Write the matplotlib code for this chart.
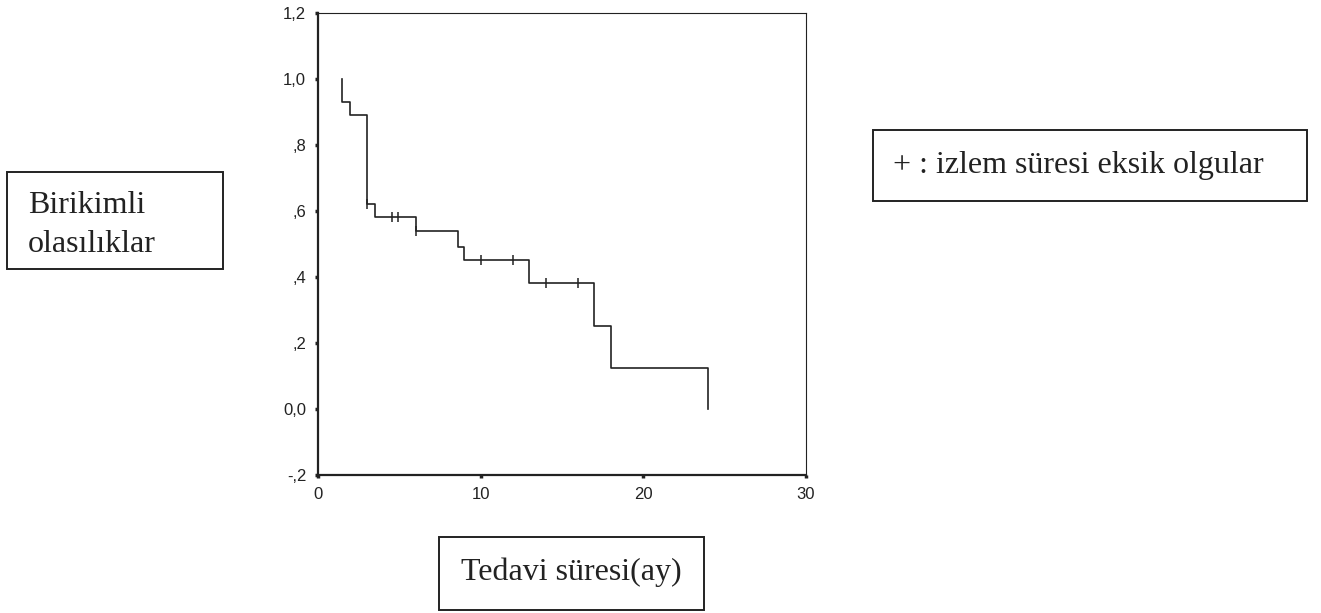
import numpy as np
import matplotlib
matplotlib.use("Agg")
import matplotlib.pyplot as plt
from matplotlib.patches import Rectangle

# Kaplan-Meier step points (time in months, cumulative survival)
start_time = 1.5
event_times = [1.5, 2.0, 3.0, 3.5, 6.0, 8.6, 9.0, 13.0, 17.0, 18.0, 24.0]
surv_values = [0.93, 0.89, 0.62, 0.58, 0.54, 0.49, 0.45, 0.38, 0.25, 0.125, 0.0]

# censored cases
cens_times = [3.0, 4.55, 4.95, 6.0, 10.0, 12.0, 14.0, 16.0]
cens_values = [0.62, 0.58, 0.58, 0.54, 0.45, 0.45, 0.38, 0.38]

yticks = [-0.2, 0.0, 0.2, 0.4, 0.6, 0.8, 1.0, 1.2]
ytick_labels = ["-,2", "0,0", ",2", ",4", ",6", ",8", "1,0", "1,2"]
xticks = [0, 10, 20, 30]

ylabel_lines = ["Birikimli", "olasılıklar"]
xlabel_text = "Tedavi süresi(ay)"
legend_text = "+ : izlem süresi eksik olgular"

fig = plt.figure(figsize=(13.21, 6.13), dpi=100)
ax = fig.add_axes([0.2407, 0.2251, 0.3694, 0.7545])

# build step path
xs = [start_time]
ys = [1.0]
prev = 1.0
for t, s in zip(event_times, surv_values):
    xs += [t, t]
    ys += [prev, s]
    prev = s
ax.plot(xs, ys, color="#222222", lw=1.2)
ax.plot(cens_times, cens_values, ls="none", marker="|", ms=7, mew=1.1, color="#222222")

ax.set_xlim(0, 30)
ax.set_ylim(-0.2, 1.2)
ax.set_xticks(xticks)
ax.set_xticklabels([str(v) for v in xticks])
ax.set_yticks(yticks)
ax.set_yticklabels(ytick_labels)
ax.tick_params(direction="out", length=2.5, width=2.5, labelsize=12, pad=6,
               colors="#222222")
for lab in ax.get_xticklabels() + ax.get_yticklabels():
    lab.set_family("Liberation Sans")
ax.spines["left"].set_linewidth(1.6)
ax.spines["bottom"].set_linewidth(1.6)
ax.spines["top"].set_linewidth(0.8)
ax.spines["right"].set_linewidth(0.8)
for sp in ax.spines.values():
    sp.set_color("#222222")

W, H = 1321, 613


def box(x0, y0, x1, y1):
    fig.patches.append(Rectangle((x0 / W, 1 - y1 / H), (x1 - x0) / W, (y1 - y0) / H,
                                 transform=fig.transFigure, fill=False,
                                 edgecolor="#222222", lw=1.4))


box(7, 172, 223, 269)
box(873, 130, 1307, 201)
box(439, 537, 704, 610)

serif = "Liberation Serif"
fs = 23
fig.text(28 / W, 1 - 213 / H, ylabel_lines[0], family=serif, fontsize=fs,
         ha="left", va="baseline", color="#222222")
fig.text(28 / W, 1 - 252 / H, ylabel_lines[1], family=serif, fontsize=fs,
         ha="left", va="baseline", color="#222222")
fig.text(893 / W, 1 - 173 / H, legend_text, family=serif, fontsize=fs,
         ha="left", va="baseline", color="#222222")
fig.text(571 / W, 1 - 580 / H, xlabel_text, family=serif, fontsize=fs,
         ha="center", va="baseline", color="#222222")

fig.savefig("out.png", dpi=100)
